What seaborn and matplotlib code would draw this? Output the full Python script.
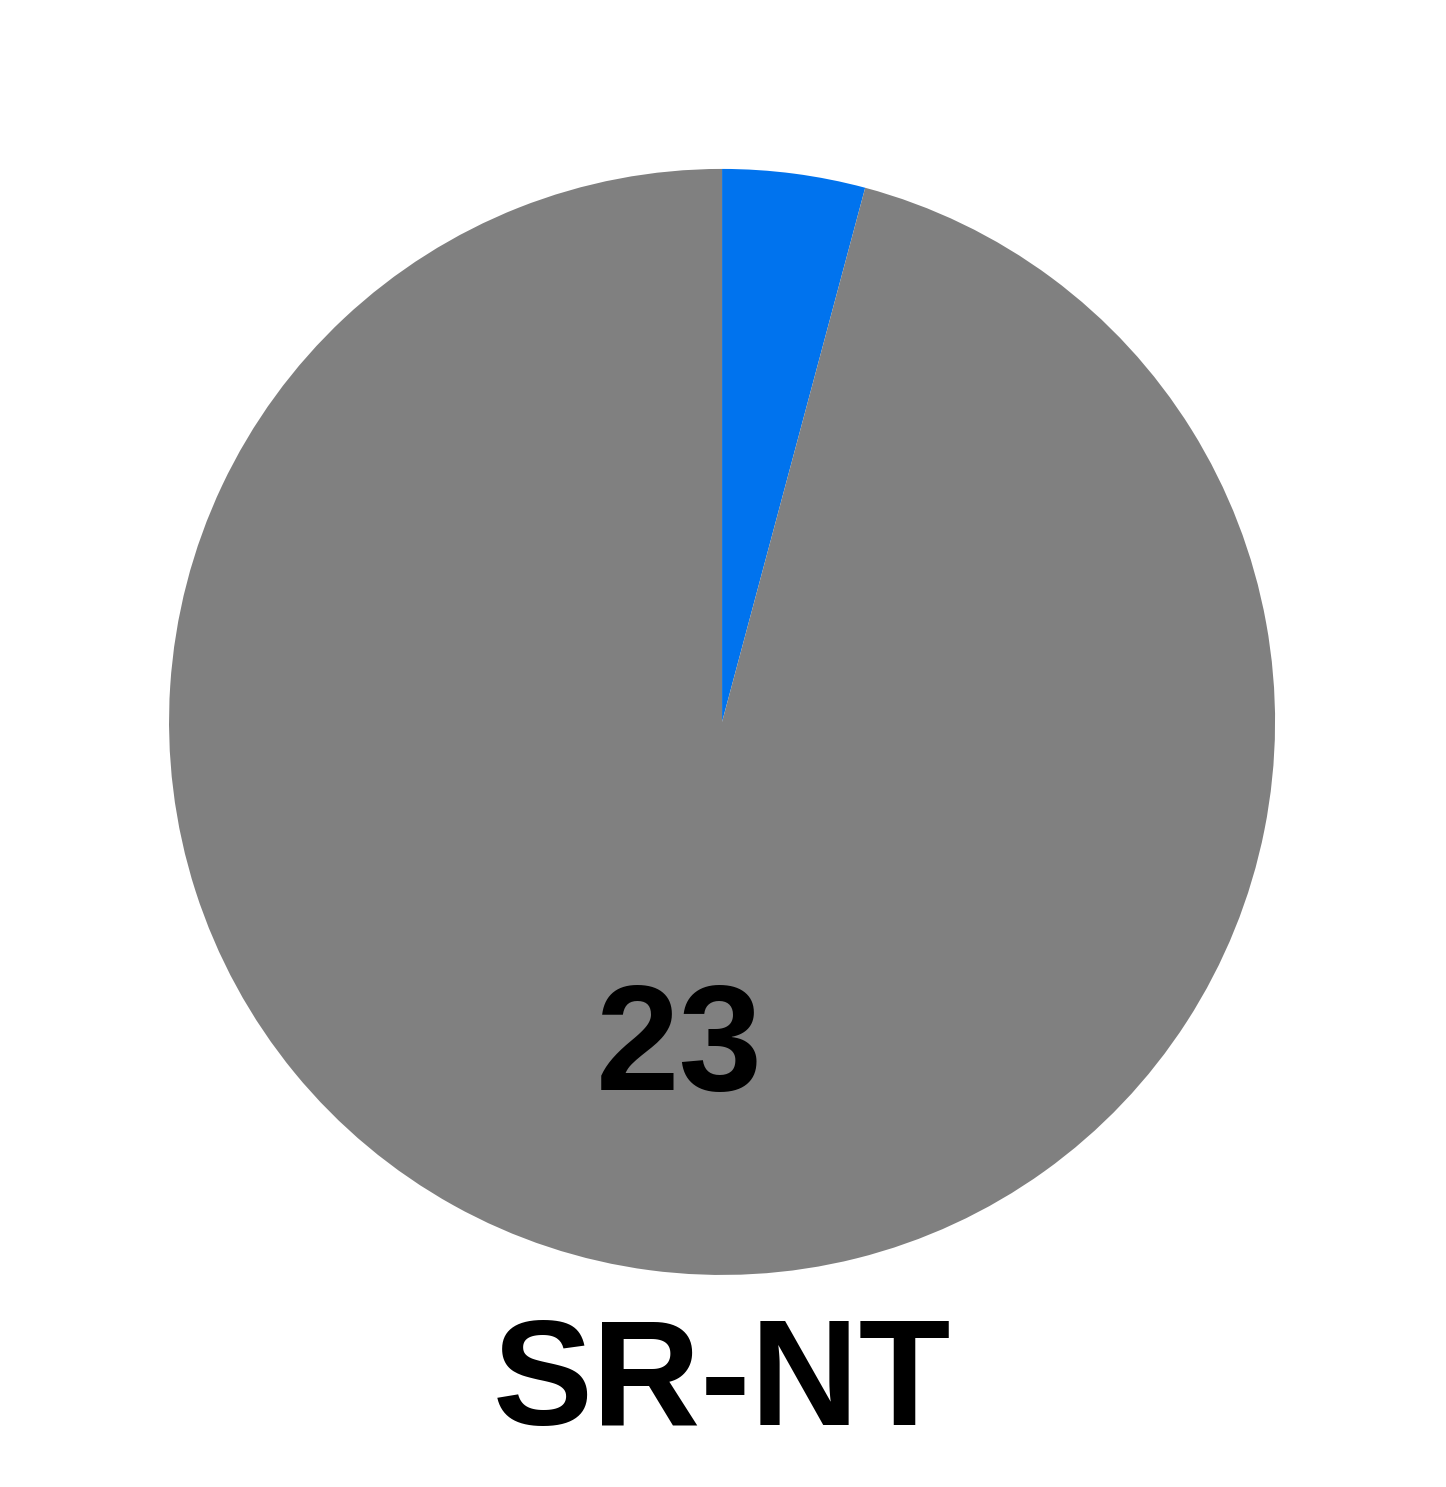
import matplotlib
matplotlib.use("Agg")
import matplotlib.pyplot as plt
import seaborn as sns

# slice counts (clockwise from 12 o'clock)
labels = ["other", "SR-NT"]
counts = [1, 23]
colors = ["#0073EE", "#808080"]
title = "SR-NT"

sns.set_theme(style="white")
plt.rcParams['font.family'] = ['Liberation Sans', 'DejaVu Sans']

fig = plt.figure(figsize=(14.46, 14.87), dpi=100)
ax = fig.add_axes([0.1169, 0.1426, 0.7649, 0.7438])

wedges, texts, autotexts = ax.pie(counts, colors=colors, startangle=90, counterclock=False,
                                  autopct=lambda p: "", pctdistance=0.6,
                                  wedgeprops=dict(linewidth=0))
# only the big slice carries its count
autotexts[1].set_text(str(counts[1]))
autotexts[1].set_fontsize(108)
autotexts[1].set_fontweight("bold")
autotexts[1].set_color("black")

ax.set_xlim(-1, 1)
ax.set_ylim(-1, 1)
ax.set_aspect("equal")
ax.axis("off")

fig.text(0.4993, 0.042, title, ha="center", va="baseline", fontsize=108,
         fontweight="bold", color="black")

fig.savefig("out.png", dpi=100, facecolor="white")
